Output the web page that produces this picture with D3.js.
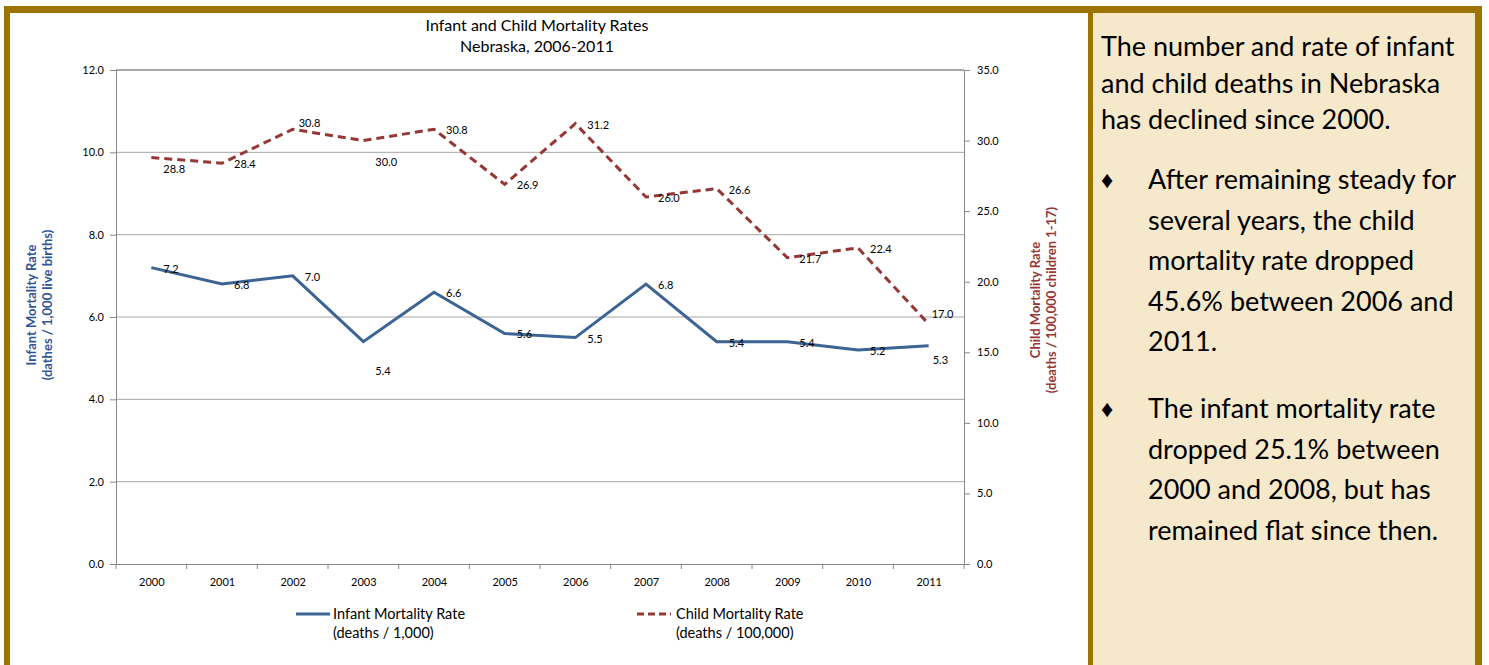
<!DOCTYPE html>
<html>
<head>
<meta charset="utf-8">
<script src="https://cdn.jsdelivr.net/npm/d3@7"></script>
<style>
  body { margin: 0; background: #fff; }
  svg { display: block; font-family: Lato, "Open Sans", sans-serif; }
</style>
</head>
<body>
<div class="wrapper"></div>
<script>
const w = 1489
const h = 665
const years = ["2000", "2001", "2002", "2003", "2004", "2005", "2006", "2007", "2008", "2009", "2010", "2011"]
const infantRate = [7.2, 6.8, 7.0, 5.4, 6.6, 5.6, 5.5, 6.8, 5.4, 5.4, 5.2, 5.3]
const childRate = [28.8, 28.4, 30.8, 30.0, 30.8, 26.9, 31.2, 26.0, 26.6, 21.7, 22.4, 17.0]
const leftTicks = [0, 2, 4, 6, 8, 10, 12]
const rightTicks = [0, 5, 10, 15, 20, 25, 30, 35]
const panelIntro = ["The number and rate of infant", "and child deaths in Nebraska", "has declined since 2000."]
const bullets = [
  ["After remaining steady for", "several years, the child", "mortality rate dropped", "45.6% between 2006 and", "2011."],
  ["The infant mortality rate", "dropped 25.1% between", "2000 and 2008, but has", "remained flat since then."]
]

const gold = "#9e7400"
const blue = "#3b6393"
const red = "#953735"
const plotL = 116, plotR = 964, plotT = 70, plotB = 564

const svg = d3.select(".wrapper")
  .append("svg")
  .attr("width", w)
  .attr("height", h)

// frame and side panel
svg.append("rect").attr("x", 1093).attr("y", 13).attr("width", 382).attr("height", h).attr("fill", "#f5e8cb")
svg.append("rect").attr("x", 4).attr("y", 6).attr("width", 1478).attr("height", 7).attr("fill", gold)
svg.append("rect").attr("x", 4).attr("y", 6).attr("width", 6).attr("height", h).attr("fill", gold)
svg.append("rect").attr("x", 1088).attr("y", 6).attr("width", 5).attr("height", h).attr("fill", gold)
svg.append("rect").attr("x", 1475).attr("y", 6).attr("width", 7).attr("height", h).attr("fill", gold)

const xScale = d3.scalePoint().domain(years).range([plotL, plotR]).padding(0.5)
const yLeft = d3.scaleLinear().domain([0, 12]).range([plotB, plotT])
const yRight = d3.scaleLinear().domain([0, 35]).range([plotB, plotT])

// gridlines
svg.append("g")
  .selectAll("line")
  .data(leftTicks.slice(1))
  .enter()
  .append("line")
  .attr("x1", plotL).attr("x2", plotR)
  .attr("y1", (d) => yLeft(d)).attr("y2", (d) => yLeft(d))
  .attr("stroke", (d) => d === 12 ? "#555" : "#a6a6a6")
  .attr("stroke-width", 1)

const leftAxis = svg.append("g")
  .attr("transform", "translate(" + plotL + ",0)")
  .call(d3.axisLeft(yLeft).tickValues(leftTicks).tickFormat(d3.format(".1f")).tickSize(6).tickPadding(6))
const rightAxis = svg.append("g")
  .attr("transform", "translate(" + plotR + ",0)")
  .call(d3.axisRight(yRight).tickValues(rightTicks).tickFormat(d3.format(".1f")).tickSize(6).tickPadding(7))
const xAxis = svg.append("g")
  .attr("transform", "translate(0," + plotB + ")")
  .call(d3.axisBottom(xScale).tickSize(0).tickPadding(14))

// category boundary ticks
svg.append("g")
  .selectAll("line")
  .data(d3.range(years.length + 1))
  .enter()
  .append("line")
  .attr("x1", (i) => plotL + i * xScale.step()).attr("x2", (i) => plotL + i * xScale.step())
  .attr("y1", plotB).attr("y2", plotB + 5)
  .attr("stroke", "#868686")

for (const g of [leftAxis, rightAxis, xAxis]) {
  g.selectAll("path, line").attr("stroke", "#868686")
  g.selectAll("text").attr("font-size", 11).attr("fill", "#000").attr("font-family", "Lato, sans-serif")
}
xAxis.select(".domain").attr("d", "M" + plotL + ",0.5H" + plotR)

// lines
const infantLine = d3.line().x((d, i) => xScale(years[i])).y((d) => yLeft(d))
const childLine = d3.line().x((d, i) => xScale(years[i])).y((d) => yRight(d))

svg.append("path").datum(childRate)
  .attr("d", childLine)
  .attr("fill", "none").attr("stroke", red).attr("stroke-width", 3)
  .attr("stroke-dasharray", "8,5")
svg.append("path").datum(infantRate)
  .attr("d", infantLine)
  .attr("fill", "none").attr("stroke", blue).attr("stroke-width", 3)

// data labels (nudges mimic the spreadsheet placement)
const infantNudge = { 3: [0, 28], 11: [-8, 13] }
const childNudge = { 0: [0, 10], 2: [-6, -7], 3: [0, 20], 11: [-9, -11] }

svg.append("g").selectAll("text")
  .data(infantRate).enter().append("text")
  .attr("x", (d, i) => xScale(years[i]) + 12 + (infantNudge[i] ? infantNudge[i][0] : 0))
  .attr("y", (d, i) => yLeft(d) + 5 + (infantNudge[i] ? infantNudge[i][1] : 0))
  .attr("font-size", 11).attr("fill", "#000")
  .text((d) => d.toFixed(1))

svg.append("g").selectAll("text")
  .data(childRate).enter().append("text")
  .attr("x", (d, i) => xScale(years[i]) + 12 + (childNudge[i] ? childNudge[i][0] : 0))
  .attr("y", (d, i) => yRight(d) + 5 + (childNudge[i] ? childNudge[i][1] : 0))
  .attr("font-size", 11).attr("fill", "#000")
  .text((d) => d.toFixed(1))

// title
svg.append("text").attr("x", 537).attr("y", 31).attr("text-anchor", "middle")
  .attr("font-size", 16).text("Infant and Child Mortality Rates")
svg.append("text").attr("x", 537).attr("y", 52).attr("text-anchor", "middle")
  .attr("font-size", 16).text("Nebraska, 2006-2011")

// axis titles
const lt = svg.append("text").attr("transform", "translate(36,305) rotate(-90)")
  .attr("text-anchor", "middle").attr("font-size", 13).attr("font-weight", "bold").attr("fill", "#2f5597")
lt.append("tspan").attr("x", 0).attr("dy", 0).text("Infant Mortality Rate")
lt.append("tspan").attr("x", 0).attr("dy", 16).text("(dathes / 1,000 live births)")

const rt = svg.append("text").attr("transform", "translate(1040,300) rotate(-90)")
  .attr("text-anchor", "middle").attr("font-size", 13).attr("font-weight", "bold").attr("fill", red)
rt.append("tspan").attr("x", 0).attr("dy", 0).text("Child Mortality Rate")
rt.append("tspan").attr("x", 0).attr("dy", 16).text("(deaths / 100,000 children 1-17)")

// legend
svg.append("line").attr("x1", 296).attr("x2", 330).attr("y1", 614).attr("y2", 614)
  .attr("stroke", blue).attr("stroke-width", 3)
svg.append("text").attr("x", 333).attr("y", 619).attr("font-size", 14.5).text("Infant Mortality Rate")
svg.append("text").attr("x", 333).attr("y", 638).attr("font-size", 14.5).text("(deaths / 1,000)")
svg.append("line").attr("x1", 637).attr("x2", 671).attr("y1", 614).attr("y2", 614)
  .attr("stroke", red).attr("stroke-width", 3).attr("stroke-dasharray", "7,4")
svg.append("text").attr("x", 676).attr("y", 619).attr("font-size", 14.5).text("Child Mortality Rate")
svg.append("text").attr("x", 676).attr("y", 638).attr("font-size", 14.5).text("(deaths / 100,000)")

// side panel text
const panel = svg.append("g").attr("font-size", 27).attr("fill", "#000")
panelIntro.forEach((line, i) => {
  panel.append("text").attr("x", 1101).attr("y", 56 + i * 36.5).text(line)
})
const bulletStarts = [189, 418]
bullets.forEach((lines, b) => {
  panel.append("text").attr("x", 1101).attr("y", bulletStarts[b] - 1).attr("font-size", 24).text("♦")
  lines.forEach((line, i) => {
    panel.append("text").attr("x", 1148).attr("y", bulletStarts[b] + i * 40.5).text(line)
  })
})
</script>
</body>
</html>
